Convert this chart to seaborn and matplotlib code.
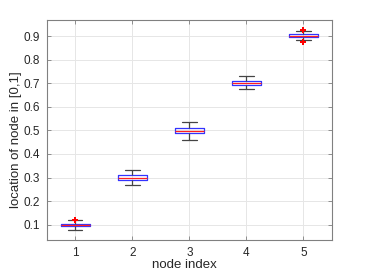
import pandas as pd
import matplotlib
matplotlib.use('Agg')
import matplotlib.pyplot as plt
import seaborn as sns

# five-number summary per node
nodes = [1, 2, 3, 4, 5]
whisker_low = [0.078, 0.269, 0.458, 0.674, 0.882]
quart_1 = [0.094, 0.289, 0.488, 0.694, 0.896]
medians = [0.099, 0.298, 0.499, 0.700, 0.901]
quart_3 = [0.103, 0.311, 0.511, 0.711, 0.907]
whisker_high = [0.119, 0.334, 0.536, 0.730, 0.922]

outlier_nodes = [1, 5, 5]
outlier_values = [0.122, 0.925, 0.873]

rows = []
for i, n in enumerate(nodes):
    for v in (whisker_low[i], quart_1[i], medians[i], quart_3[i], whisker_high[i]):
        rows.append({'node': n, 'loc': v})
df = pd.DataFrame(rows)
df_out = pd.DataFrame({'node': outlier_nodes, 'loc': outlier_values})

sns.set_style('white')
plt.rcParams['font.family'] = ['Liberation Sans', 'DejaVu Sans']

fig = plt.figure(figsize=(3.66, 2.74), dpi=100)
ax = fig.add_axes([0.128, 0.124, 0.779, 0.803])

sns.boxplot(data=df, x='node', y='loc', native_scale=True, width=0.5,
            whis=(0, 100), fill=False, linewidth=0.9, showfliers=False,
            boxprops={'color': '#3333ff'}, medianprops={'color': '#ff2020'},
            whiskerprops={'color': '#444444', 'linestyle': '-'},
            capprops={'color': '#444444'}, ax=ax)
sns.scatterplot(data=df_out, x='node', y='loc', marker='P', color='red',
                s=20, linewidth=0, ax=ax, zorder=5)

ax.set_xlim(0.5, 5.5)
ax.set_ylim(0.035, 0.968)
ax.set_xticks(nodes)
ax.set_xticklabels([str(n) for n in nodes])
ax.set_yticks([0.1, 0.2, 0.3, 0.4, 0.5, 0.6, 0.7, 0.8, 0.9])
ax.grid(True, color='#e6e6e6', linewidth=0.7)
ax.set_axisbelow(True)
for s in ax.spines.values():
    s.set_color('#808080')
    s.set_linewidth(0.8)
ax.tick_params(direction='in', length=3, width=0.6, color='#808080',
               labelsize=8.5, labelcolor='#262626', top=True, right=True,
               bottom=True, left=True, pad=5)
ax.set_xlabel('node index', fontsize=9.5, color='#262626')
ax.set_ylabel('location of node in [0,1]', fontsize=9.5, color='#262626')
ax.xaxis.set_label_coords(0.484, -0.085, transform=ax.transAxes)
ax.yaxis.set_label_coords(-0.088, 0.455)

fig.savefig('out.png', dpi=100)
